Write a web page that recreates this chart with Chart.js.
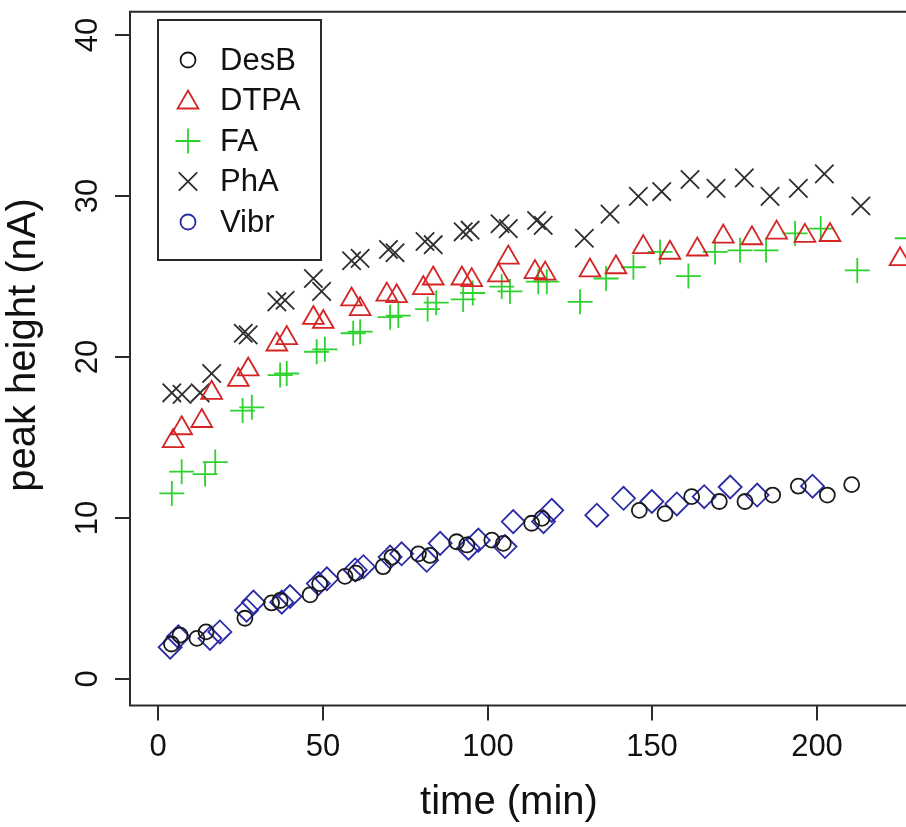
<!DOCTYPE html>
<html>
<head>
<meta charset="utf-8">
<script src="https://cdn.jsdelivr.net/npm/chart.js@4.4.1/dist/chart.umd.min.js"></script>
<style>
  html, body { margin: 0; padding: 0; background: #fff; overflow: hidden; }
  canvas { display: block; }
</style>
</head>
<body>
<canvas id="chart" width="906" height="827"></canvas>
<script>
// time (min) / peak height (nA) per compound
const desbTime = [4.0, 6.6, 11.7, 14.5, 26.3, 34.4, 37.0, 46.1, 49.0, 56.7, 60.0, 68.3, 71.0, 79.0, 82.5, 90.6, 93.7, 101.3, 104.8, 113.4, 116.5, 146.1, 153.9, 162.0, 170.4, 178.2, 186.6, 194.4, 203.2, 210.6]
const desbPeak = [2.2, 2.75, 2.55, 2.95, 3.8, 4.75, 4.9, 5.25, 5.95, 6.4, 6.6, 7.0, 7.6, 7.8, 7.7, 8.55, 8.35, 8.65, 8.45, 9.7, 10.0, 10.5, 10.3, 11.35, 11.05, 11.05, 11.45, 12.0, 11.45, 12.1]

const dtpaTime = [4.5, 7.1, 13.2, 16.2, 24.3, 27.3, 36.0, 39.0, 47.1, 50.1, 58.7, 61.3, 69.4, 72.4, 80.5, 83.5, 92.2, 95.2, 103.3, 106.3, 114.4, 117.5, 131.1, 139.0, 147.3, 155.4, 163.7, 171.6, 180.3, 187.8, 196.4, 204.0, 225.3]
const dtpaPeak = [14.8, 15.6, 16.05, 17.8, 18.6, 19.25, 20.8, 21.2, 22.45, 22.2, 23.6, 23.0, 23.9, 23.8, 24.3, 24.9, 24.9, 24.8, 25.1, 26.2, 25.3, 25.2, 25.4, 25.6, 26.85, 26.5, 26.7, 27.5, 27.4, 27.75, 27.55, 27.6, 26.1]

const faTime = [4.1, 7.1, 14.2, 17.3, 25.6, 28.4, 37.0, 39.0, 48.1, 50.6, 59.2, 61.3, 70.4, 72.9, 81.8, 84.4, 92.6, 95.5, 104.3, 106.8, 115.4, 118.0, 128.1, 136.0, 144.3, 152.4, 161.0, 169.1, 176.7, 184.6, 193.4, 201.2, 212.3, 227.5]
const faPeak = [11.55, 12.9, 12.75, 13.5, 16.7, 16.9, 18.9, 19.0, 20.35, 20.5, 21.5, 21.6, 22.5, 22.6, 23.0, 23.4, 23.6, 24.0, 24.4, 24.1, 24.7, 24.7, 23.45, 24.9, 25.6, 26.55, 25.05, 26.55, 26.65, 26.65, 27.7, 28.0, 25.4, 27.4]

const phaTime = [4.1, 7.2, 12.7, 16.2, 25.8, 27.3, 36.0, 38.5, 47.1, 49.6, 58.7, 61.3, 69.9, 71.9, 81.0, 83.5, 92.6, 94.7, 103.8, 106.3, 114.9, 116.9, 129.4, 137.2, 145.8, 152.9, 161.5, 169.4, 178.0, 185.8, 194.4, 202.3, 213.4]
const phaPeak = [17.8, 17.7, 17.8, 19.0, 21.5, 21.4, 23.45, 23.55, 24.9, 24.1, 26.0, 26.15, 26.7, 26.5, 27.2, 27.0, 27.8, 27.9, 28.3, 28.0, 28.5, 28.2, 27.4, 28.9, 30.0, 30.3, 31.05, 30.5, 31.15, 30.0, 30.5, 31.4, 29.4]

const vibrTime = [3.6, 6.1, 15.7, 18.7, 26.8, 28.9, 37.5, 40.0, 48.6, 51.2, 59.8, 62.3, 70.4, 73.9, 81.5, 85.6, 94.2, 97.2, 105.3, 107.8, 117.0, 119.5, 133.2, 141.3, 149.9, 157.5, 165.8, 173.7, 181.9, 198.7]
const vibrPeak = [2.0, 2.65, 2.55, 2.95, 4.3, 4.8, 4.8, 5.15, 5.95, 6.25, 6.8, 7.0, 7.6, 7.8, 7.4, 8.45, 8.15, 8.65, 8.25, 9.8, 9.8, 10.5, 10.2, 11.25, 11.05, 10.9, 11.35, 11.95, 11.45, 12.0]

const seriesNames = ["DesB", "DTPA", "FA", "PhA", "Vibr"]
const xTicks = [0, 50, 100, 150, 200]
const yTicks = [0, 10, 20, 30, 40]

const FONT = '31px "Liberation Sans", Arial, sans-serif'
const TITLE_FONT = '40px "Liberation Sans", Arial, sans-serif'

const pts = (xs, ys) => xs.map((x, i) => ({ x: x, y: ys[i] }))

function symbol(ctx, style, x, y, r) {
  ctx.beginPath()
  if (style === "circle") {
    ctx.arc(x, y, r, 0, Math.PI * 2)
  } else if (style === "triangle") {
    for (let k = 0; k < 3; k++) {
      const a = k * 2 * Math.PI / 3
      const px = x + Math.sin(a) * r
      const py = y - Math.cos(a) * r
      if (k === 0) ctx.moveTo(px, py)
      else ctx.lineTo(px, py)
    }
    ctx.closePath()
  } else if (style === "cross") {
    ctx.moveTo(x - r, y); ctx.lineTo(x + r, y)
    ctx.moveTo(x, y - r); ctx.lineTo(x, y + r)
  } else if (style === "crossRot") {
    const d = r * Math.SQRT1_2
    ctx.moveTo(x - d, y - d); ctx.lineTo(x + d, y + d)
    ctx.moveTo(x - d, y + d); ctx.lineTo(x + d, y - d)
  }
  ctx.stroke()
}

// R-ish box, ticks, labels and legend
const rFrame = {
  id: "rFrame",
  afterDatasetsDraw(chart) {
    const ctx = chart.ctx
    const a = chart.chartArea
    const xs = chart.scales.x
    const ys = chart.scales.y
    ctx.save()
    ctx.strokeStyle = "#2b2b2b"
    ctx.lineWidth = 2
    ctx.beginPath()
    ctx.moveTo(a.right + 2, a.top)
    ctx.lineTo(a.left, a.top)
    ctx.lineTo(a.left, a.bottom)
    ctx.lineTo(a.right + 2, a.bottom)
    ctx.stroke()

    ctx.fillStyle = "#111"
    ctx.font = FONT
    ctx.textAlign = "center"
    ctx.textBaseline = "alphabetic"
    xTicks.forEach(v => {
      const px = Math.round(xs.getPixelForValue(v))
      ctx.beginPath()
      ctx.moveTo(px, a.bottom)
      ctx.lineTo(px, a.bottom + 15)
      ctx.stroke()
      ctx.fillText(String(v), px, 756)
    })
    yTicks.forEach(v => {
      const py = Math.round(ys.getPixelForValue(v))
      ctx.beginPath()
      ctx.moveTo(a.left, py)
      ctx.lineTo(a.left - 15, py)
      ctx.stroke()
      ctx.save()
      ctx.translate(97, py)
      ctx.rotate(-Math.PI / 2)
      ctx.fillText(String(v), 0, 0)
      ctx.restore()
    })

    ctx.font = TITLE_FONT
    ctx.fillText("time (min)", 509, 814)
    ctx.save()
    ctx.translate(35, 345)
    ctx.rotate(-Math.PI / 2)
    ctx.fillText("peak height (nA)", 0, 0)
    ctx.restore()

    // legend
    ctx.font = FONT
    ctx.strokeStyle = "#2b2b2b"
    ctx.strokeRect(158, 20, 163, 240)
    const legendStyles = ["circle", "triangle", "cross", "crossRot", "circle"]
    const legendSizes = [7.5, 12, 12.5, 13, 7.5]
    ctx.textAlign = "left"
    ctx.textBaseline = "middle"
    seriesNames.forEach((name, i) => {
      const ds = chart.data.datasets[i]
      const cy = 60 + i * 40.5
      ctx.strokeStyle = ds.pointBorderColor
      ctx.lineWidth = 1.8
      symbol(ctx, legendStyles[i], 188, cy + (legendStyles[i] === "triangle" ? 2 : 0), legendSizes[i])
      ctx.fillStyle = "#111"
      ctx.fillText(name, 220, cy + 1)
    })
    ctx.restore()
  }
}

function series(label, xs, ys, style, radius, color) {
  return {
    label: label,
    data: pts(xs, ys),
    pointStyle: style,
    pointRadius: radius,
    pointHoverRadius: radius,
    pointBorderColor: color,
    pointBackgroundColor: "rgba(0,0,0,0)",
    pointBorderWidth: 1.8,
    pointHoverBorderWidth: 1.8,
    showLine: false,
    clip: false
  }
}

new Chart(document.getElementById("chart"), {
  type: "scatter",
  data: {
    datasets: [
      series(seriesNames[0], desbTime, desbPeak, "circle", 7.5, "#1a1a1a"),
      series(seriesNames[1], dtpaTime, dtpaPeak, "triangle", 12, "#d42424"),
      series(seriesNames[2], faTime, faPeak, "cross", 12.5, "#2ed22e"),
      series(seriesNames[3], phaTime, phaPeak, "crossRot", 13, "#2e2e2e"),
      series(seriesNames[4], vibrTime, vibrPeak, "rectRot", 11.5, "#2a2aa8")
    ]
  },
  options: {
    responsive: false,
    animation: false,
    devicePixelRatio: 1,
    layout: {
      autoPadding: false,
      padding: { left: 130, top: 11.7, right: 0, bottom: 121.5 }
    },
    plugins: {
      legend: { display: false },
      tooltip: { enabled: false }
    },
    scales: {
      x: { type: "linear", min: -8.6, max: 227.1, display: false },
      y: { type: "linear", min: -1.62, max: 41.47, display: false }
    }
  },
  plugins: [rFrame]
})
</script>
</body>
</html>
